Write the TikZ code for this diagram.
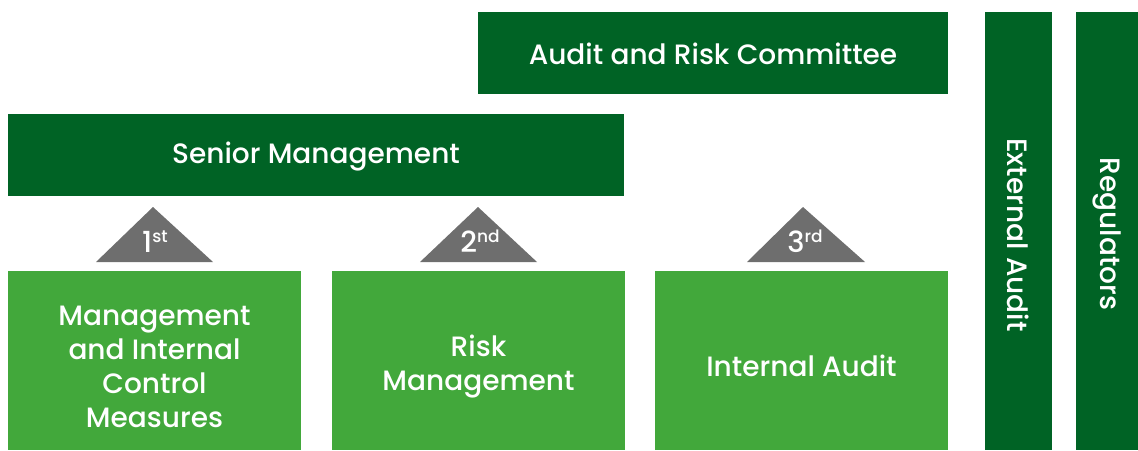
\documentclass[tikz,border=0pt]{standalone}
\usepackage{fontspec}
\setmainfont{Poppins Medium}
\definecolor{dkgreen}{HTML}{006325}
\definecolor{ltgreen}{HTML}{42A83B}
\definecolor{trigrey}{HTML}{6E6E6E}
\newcommand{\ordsup}[1]{\raisebox{10pt}{\fontsize{17}{17}\selectfont #1}}
\begin{document}
\begin{tikzpicture}[x=1pt,y=-1pt,
  lbl/.style={text=white,align=center,font=\fontsize{28}{34}\selectfont,inner sep=0pt},
  tri/.style={fill=trigrey,draw=none},
  num/.style={text=white,font=\fontsize{29}{29}\selectfont,inner sep=0pt,anchor=base}]
\useasboundingbox (0,0) rectangle (1138,450);
% boxes
\fill[dkgreen] (478,12) rectangle (948,94);
\node[lbl] (arc) at (713,54) {Audit and Risk Committee};
\fill[dkgreen] (8,114) rectangle (624,196);
\node[lbl] (sm) at (316,157) {Senior Management};
\fill[dkgreen] (985,12) rectangle (1052,450);
\node[lbl,rotate=-90] (ea) at (1018,235) {External Audit};
\fill[dkgreen] (1076,12) rectangle (1138,450);
\node[lbl,rotate=-90] (reg) at (1107,234) {Regulators};
\fill[ltgreen] (8,271) rectangle (301,450);
\node[lbl] (mic) at (154.5,367) {Management\\and Internal\\Control\\Measures};
\fill[ltgreen] (332,271) rectangle (625,450);
\node[lbl] (rm) at (478.5,367) {Risk\\Management};
\fill[ltgreen] (655,271) rectangle (948,450);
\node[lbl] (ia) at (801.5,366) {Internal Audit};
% triangles
\fill[tri] (96,262) -- (153,207) -- (213,262) -- cycle;
\node[num] (t1) at (155,252) {1\ordsup{st}};
\fill[tri] (420,262) -- (478,207) -- (537,262) -- cycle;
\node[num] (t2) at (480,252) {2\ordsup{nd}};
\fill[tri] (747,262) -- (803,207) -- (865,262) -- cycle;
\node[num] (t3) at (805,252) {3\ordsup{rd}};
\end{tikzpicture}
\end{document}
